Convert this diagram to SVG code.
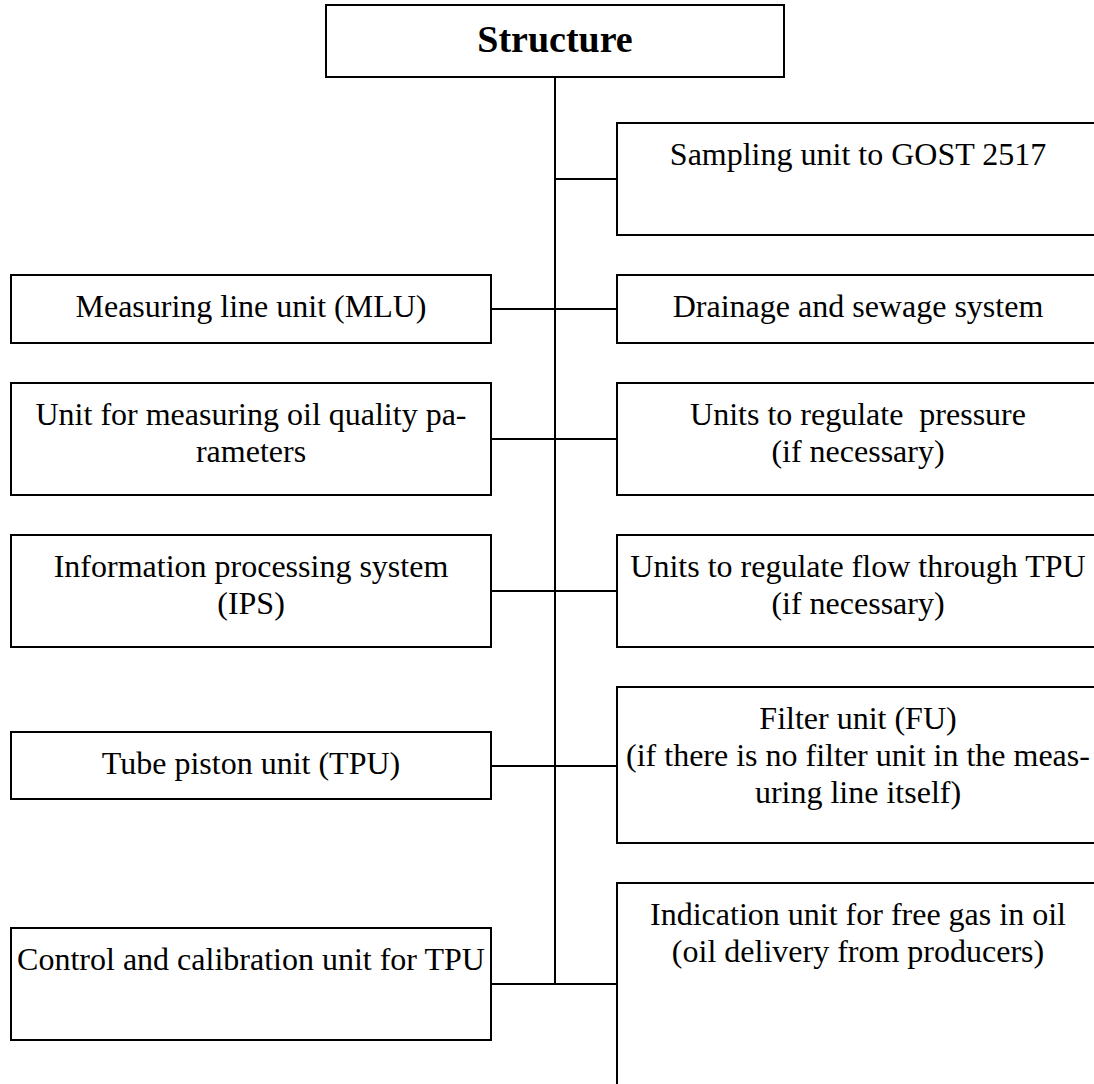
<svg xmlns="http://www.w3.org/2000/svg" width="1094" height="1084" viewBox="0 0 1094 1084">
  <style>
    .box { fill: #ffffff; stroke: #000000; stroke-width: 2; }
    .wire { fill: none; stroke: #000000; stroke-width: 2; }
    .lbl { font-family: "Liberation Serif", "Times New Roman", serif; font-size: 32px; fill: #000000; text-anchor: middle; }
    .title { font-family: "Liberation Serif", "Times New Roman", serif; font-size: 38px; font-weight: bold; fill: #000000; text-anchor: middle; }
  </style>
  <rect width="1094" height="1084" fill="#ffffff"/>

  <!-- trunk and branch lines -->
  <g id="connectors">
    <line class="wire" x1="555" y1="77" x2="555" y2="984"/>
    <line class="wire" x1="555" y1="179" x2="617" y2="179"/>
    <line class="wire" x1="491" y1="309" x2="617" y2="309"/>
    <line class="wire" x1="491" y1="439" x2="617" y2="439"/>
    <line class="wire" x1="491" y1="591" x2="617" y2="591"/>
    <line class="wire" x1="491" y1="766" x2="617" y2="766"/>
    <line class="wire" x1="491" y1="984" x2="617" y2="984"/>
  </g>

  <g id="structure">
    <rect class="box" x="326" y="5" width="458" height="72"/>
    <text class="title" x="555" y="52">Structure</text>
  </g>

  <!-- right column -->
  <g id="sampling">
    <rect class="box" x="617" y="123" width="482" height="112"/>
    <text class="lbl" x="858" y="165">Sampling unit to GOST 2517</text>
  </g>
  <g id="drainage">
    <rect class="box" x="617" y="275" width="482" height="68"/>
    <text class="lbl" x="858" y="317">Drainage and sewage system</text>
  </g>
  <g id="pressure">
    <rect class="box" x="617" y="383" width="482" height="112"/>
    <text class="lbl" x="858" y="425" xml:space="preserve">Units to regulate  pressure</text>
    <text class="lbl" x="858" y="462">(if necessary)</text>
  </g>
  <g id="flow">
    <rect class="box" x="617" y="535" width="482" height="112"/>
    <text class="lbl" x="858" y="577">Units to regulate flow through TPU</text>
    <text class="lbl" x="858" y="614">(if necessary)</text>
  </g>
  <g id="filter">
    <rect class="box" x="617" y="687" width="482" height="156"/>
    <text class="lbl" x="858" y="729">Filter unit (FU)</text>
    <text class="lbl" x="858" y="766">(if there is no filter unit in the meas-</text>
    <text class="lbl" x="858" y="803">uring line itself)</text>
  </g>
  <g id="indication">
    <rect class="box" x="617" y="883" width="482" height="210"/>
    <text class="lbl" x="858" y="925">Indication unit for free gas in oil</text>
    <text class="lbl" x="858" y="962">(oil delivery from producers)</text>
  </g>

  <!-- left column -->
  <g id="mlu">
    <rect class="box" x="11" y="275" width="480" height="68"/>
    <text class="lbl" x="251" y="317">Measuring line unit (MLU)</text>
  </g>
  <g id="quality">
    <rect class="box" x="11" y="383" width="480" height="112"/>
    <text class="lbl" x="251" y="425">Unit for measuring oil quality pa-</text>
    <text class="lbl" x="251" y="462">rameters</text>
  </g>
  <g id="ips">
    <rect class="box" x="11" y="535" width="480" height="112"/>
    <text class="lbl" x="251" y="577">Information processing system</text>
    <text class="lbl" x="251" y="614">(IPS)</text>
  </g>
  <g id="tpu">
    <rect class="box" x="11" y="732" width="480" height="67"/>
    <text class="lbl" x="251" y="774">Tube piston unit (TPU)</text>
  </g>
  <g id="calibration">
    <rect class="box" x="11" y="928" width="480" height="112"/>
    <text class="lbl" x="251" y="970">Control and calibration unit for TPU</text>
  </g>
</svg>
